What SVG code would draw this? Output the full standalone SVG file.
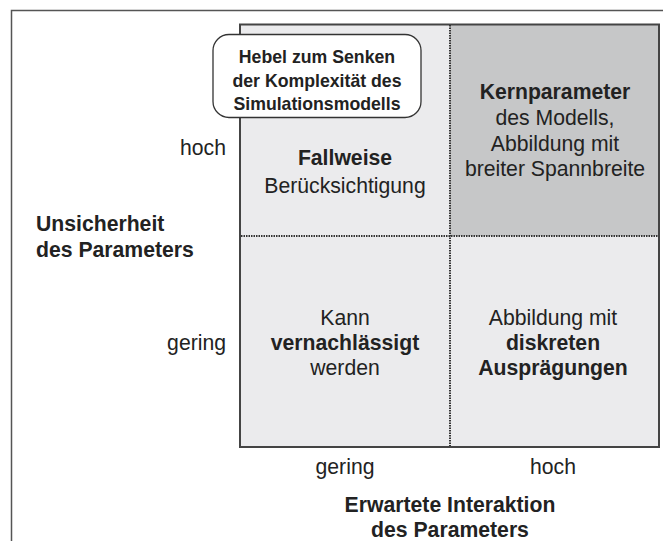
<svg xmlns="http://www.w3.org/2000/svg" width="663" height="541" viewBox="0 0 663 541">
<style>
.t{font-family:"Liberation Sans",Arial,Helvetica,sans-serif;font-size:21.2px;fill:#222}
.b{font-weight:bold}
.m{text-anchor:middle}
.e{text-anchor:end}
.c{font-family:"Liberation Sans",Arial,Helvetica,sans-serif;font-size:17.7px;font-weight:bold;fill:#222;text-anchor:middle}
.dot{stroke:#333;stroke-width:2;stroke-dasharray:1.5 1;fill:none}
</style>
<rect x="11.5" y="10.5" width="700" height="600" fill="#fff" stroke="#555" stroke-width="1.5"/>
<g id="grid">
<rect x="240" y="24.5" width="419" height="422.5" fill="#ebebed"/>
<rect x="450" y="24.5" width="209" height="211.5" fill="#c6c7c8"/>
<rect x="240" y="24.5" width="419" height="422.5" fill="none" stroke="#444" stroke-width="2"/>
</g>
<g id="connectors">
<line class="dot" x1="450" y1="25" x2="450" y2="446"/>
<line class="dot" x1="241" y1="236" x2="658" y2="236"/>
</g>
<g id="callout">
<rect x="213" y="34.5" width="208" height="83" rx="16" fill="#fff" stroke="#333" stroke-width="1.3"/>
<text class="c" x="317" y="63">Hebel zum Senken</text>
<text class="c" x="317" y="87">der Komplexität des</text>
<text class="c" x="317" y="110">Simulationsmodells</text>
</g>
<g id="q-fallweise">
<text class="t m b" x="345" y="165">Fallweise</text>
<text class="t m" x="345" y="193">Berücksichtigung</text>
</g>
<g id="q-kern">
<text class="t m b" x="555" y="99">Kernparameter</text>
<text class="t m" x="555" y="125">des Modells,</text>
<text class="t m" x="555" y="151">Abbildung mit</text>
<text class="t m" x="555" y="176">breiter Spannbreite</text>
</g>
<g id="q-kann">
<text class="t m" x="345" y="325">Kann</text>
<text class="t m b" x="345" y="350">vernachlässigt</text>
<text class="t m" x="345" y="375">werden</text>
</g>
<g id="q-diskret">
<text class="t m" x="553" y="325">Abbildung mit</text>
<text class="t m b" x="553" y="350">diskreten</text>
<text class="t m b" x="553" y="375">Ausprägungen</text>
</g>
<g id="y-axis">
<text class="t e" x="226" y="155">hoch</text>
<text class="t e" x="226" y="350">gering</text>
<text class="t b" x="36" y="231">Unsicherheit</text>
<text class="t b" x="36" y="257">des Parameters</text>
</g>
<g id="x-axis">
<text class="t m" x="345" y="474">gering</text>
<text class="t m" x="553" y="474">hoch</text>
<text class="t m b" x="450" y="512">Erwartete Interaktion</text>
<text class="t m b" x="450" y="537">des Parameters</text>
</g>
</svg>
